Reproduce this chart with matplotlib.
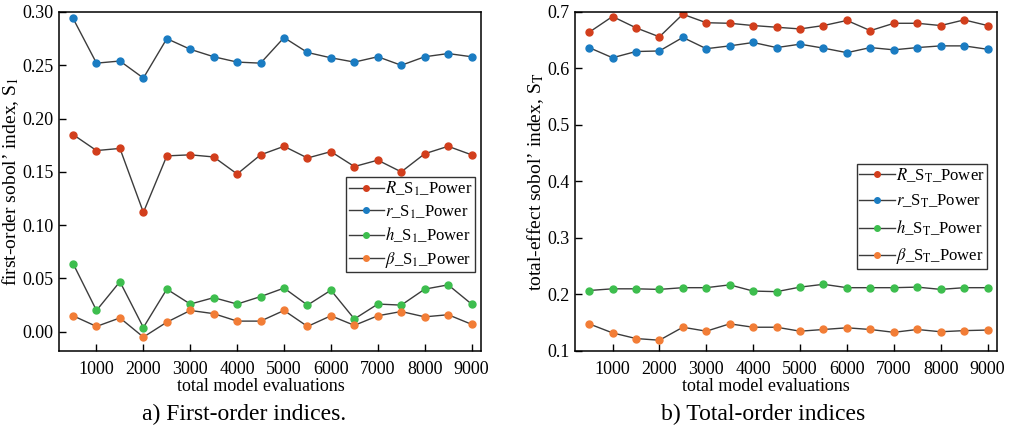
import matplotlib
matplotlib.use("Agg")
import matplotlib.pyplot as plt

plt.rcParams['font.family'] = ['Liberation Serif', 'DejaVu Serif']
plt.rcParams['mathtext.fontset'] = 'stix'

evals = [500, 1000, 1500, 2000, 2500, 3000, 3500, 4000, 4500, 5000,
         5500, 6000, 6500, 7000, 7500, 8000, 8500, 9000]

# First-order indices S1
s1_R = [0.185, 0.170, 0.172, 0.112, 0.165, 0.166, 0.164, 0.148, 0.166, 0.174,
        0.163, 0.169, 0.155, 0.161, 0.150, 0.167, 0.174, 0.166]
s1_r = [0.294, 0.252, 0.254, 0.238, 0.275, 0.265, 0.258, 0.253, 0.252, 0.276,
        0.262, 0.257, 0.253, 0.258, 0.250, 0.258, 0.261, 0.258]
s1_h = [0.064, 0.020, 0.047, 0.004, 0.040, 0.026, 0.032, 0.026, 0.033, 0.041,
        0.025, 0.039, 0.012, 0.026, 0.025, 0.040, 0.044, 0.026]
s1_b = [0.015, 0.005, 0.013, -0.005, 0.009, 0.020, 0.017, 0.010, 0.010, 0.020,
        0.005, 0.015, 0.006, 0.015, 0.019, 0.014, 0.016, 0.007]

# Total-order indices ST
st_R = [0.664, 0.692, 0.672, 0.656, 0.696, 0.681, 0.680, 0.676, 0.673, 0.670,
        0.676, 0.685, 0.667, 0.680, 0.680, 0.676, 0.686, 0.676]
st_r = [0.637, 0.619, 0.630, 0.631, 0.655, 0.635, 0.640, 0.646, 0.637, 0.643,
        0.636, 0.628, 0.637, 0.633, 0.637, 0.640, 0.640, 0.634]
st_h = [0.207, 0.210, 0.210, 0.209, 0.212, 0.212, 0.217, 0.206, 0.205, 0.213,
        0.218, 0.212, 0.212, 0.212, 0.213, 0.209, 0.212, 0.212]
st_b = [0.148, 0.132, 0.122, 0.119, 0.142, 0.135, 0.148, 0.142, 0.142, 0.135,
        0.138, 0.141, 0.138, 0.133, 0.138, 0.134, 0.136, 0.137]

labels_s1 = [r'$R$_S$_1$_Power', r'$r$_S$_1$_Power',
             r'$h$_S$_1$_Power', r'$\beta$_S$_1$_Power']
labels_st = [r'$R$_S$_\mathrm{T}$_Power', r'$r$_S$_\mathrm{T}$_Power',
             r'$h$_S$_\mathrm{T}$_Power', r'$\beta$_S$_\mathrm{T}$_Power']
colors = ['#D23E1C', '#1A7CC2', '#3DBE4E', '#F27D36']
xticks = [1000, 2000, 3000, 4000, 5000, 6000, 7000, 8000, 9000]

fig = plt.figure(figsize=(10.10, 4.28), dpi=100)
ax1 = fig.add_axes([0.0584, 0.180, 0.4178, 0.792])
ax2 = fig.add_axes([0.5693, 0.180, 0.4178, 0.792])

def draw(ax, series, labels, ylim, yticks, yfmt, ylabel, leg_anchor,
         lspacing, xlab_x, ylab_x):
    for vals, lab, c in zip(series, labels, colors):
        ax.plot(evals, vals, '-', color='#3c3c3c', lw=1.0, marker='o',
                markersize=5, markerfacecolor=c, markeredgecolor=c, label=lab)
    ax.set_xlim(200, 9200)
    ax.set_ylim(*ylim)
    ax.set_xticks(xticks)
    ax.set_yticks(yticks)
    ax.set_yticklabels([yfmt.format(v) for v in yticks])
    ax.tick_params(direction='in', length=5, width=1, labelsize=13,
                   top=False, right=False)
    ax.tick_params(axis='x', pad=7)
    ax.tick_params(axis='y', pad=4)
    for sp in ax.spines.values():
        sp.set_linewidth(1.1)
        sp.set_color('black')
    ax.set_xlabel('total model evaluations', fontsize=13)
    ax.xaxis.set_label_coords(xlab_x, -0.08, transform=ax.transAxes)
    ax.set_ylabel(ylabel, fontsize=14)
    ax.yaxis.set_label_coords(ylab_x, 0.5, transform=ax.transAxes)
    leg = ax.legend(loc='center right', bbox_to_anchor=leg_anchor,
                    fontsize=12, frameon=True, fancybox=False, edgecolor='black',
                    handlelength=2.15, handletextpad=0.05, labelspacing=lspacing,
                    borderpad=0.15, markerscale=0.8, borderaxespad=0.0)
    leg.get_frame().set_linewidth(1.0)

draw(ax1, [s1_R, s1_r, s1_h, s1_b], labels_s1, (-0.018, 0.30),
     [0.00, 0.05, 0.10, 0.15, 0.20, 0.25, 0.30], '{:.2f}',
     'first-order sobol’ index, S$_1$', (0.986, 0.372), 0.3,
     (260.5 - 59) / 422, (21 - 59) / 422)
draw(ax2, [st_R, st_r, st_h, st_b], labels_st, (0.1, 0.7),
     [0.1, 0.2, 0.3, 0.4, 0.5, 0.6, 0.7], '{:.1f}',
     'total-effect sobol’ index, S$_\\mathrm{T}$', (0.976, 0.397), 0.5,
     (765.5 - 575) / 422, (546 - 575) / 422)

fig.text(244 / 1010, 1 - 414 / 428, 'a) First-order indices.', fontsize=17,
         ha='center', va='center')
fig.text(763 / 1010, 1 - 414 / 428, 'b) Total-order indices', fontsize=17,
         ha='center', va='center')

fig.savefig('out.png', dpi=100)
